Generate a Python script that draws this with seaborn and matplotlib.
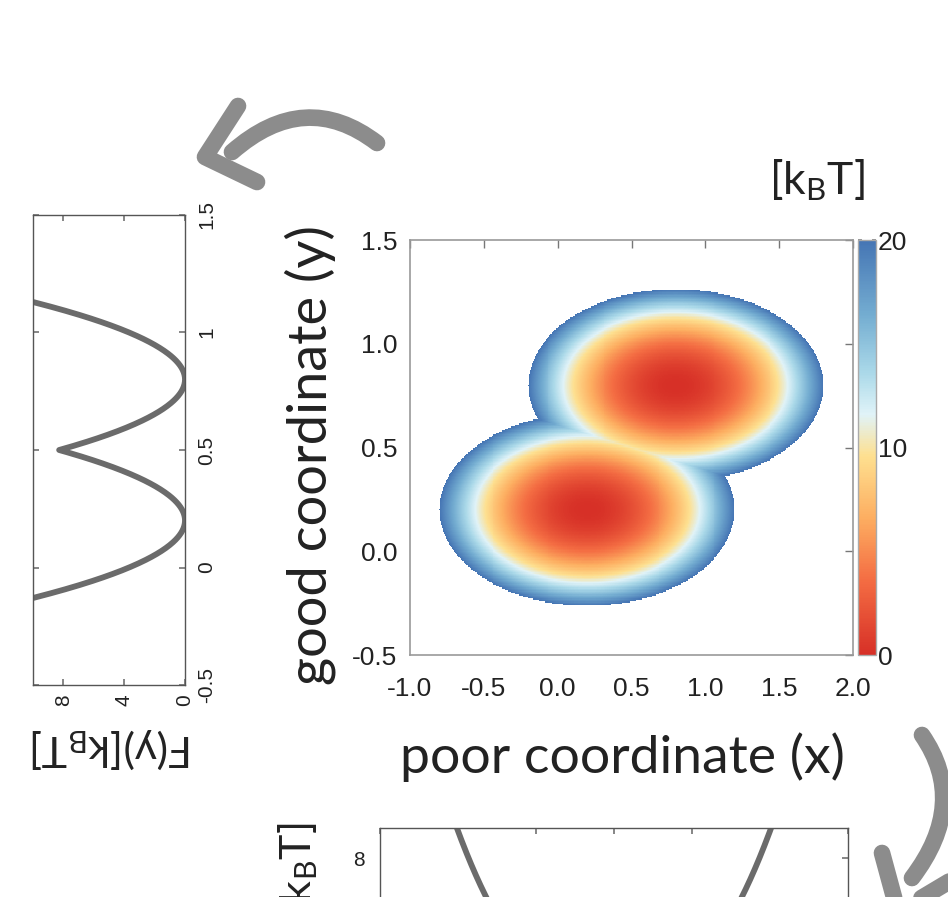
import numpy as np
import pandas as pd
import matplotlib
matplotlib.use("Agg")
import matplotlib.pyplot as plt
from matplotlib.colors import LinearSegmentedColormap
from matplotlib.path import Path
from matplotlib.patches import PathPatch
import seaborn as sns

# ---- two-state model landscape (energies in kBT) ----
well_x = [0.2, 0.8]          # well centres along the poor coordinate
well_y = [0.2, 0.8]          # well centres along the good coordinate
stiff_x = 20.0               # curvature along x
stiff_y = 92.0               # curvature along y
f_cap = 20.0                 # energies above this are left blank

x_ticks = [-1.0, -0.5, 0.0, 0.5, 1.0, 1.5, 2.0]
y_ticks = [-0.5, 0.0, 0.5, 1.0, 1.5]
cbar_ticks = [0, 10, 20]
prof_ticks = [-0.5, 0, 0.5, 1, 1.5]
prof_ticklabels = ["-0.5", "0", "0.5", "1", "1.5"]
energy_ticks = [0, 4, 8]

sns.set_theme(style="white")
plt.rcParams["font.family"] = ["Liberation Sans", "DejaVu Sans"]
plt.rcParams["mathtext.fontset"] = "custom"
plt.rcParams["mathtext.rm"] = "Lato"
plt.rcParams["mathtext.it"] = "Lato:italic"
plt.rcParams["mathtext.bf"] = "Lato:bold"

LABEL_FONT = ["Lato", "DejaVu Sans"]
INK = "#222222"
LINE = "#6b6b6b"
ARROW = "#8c8c8c"

W, H = 948, 897
fig = plt.figure(figsize=(W / 100, H / 100), dpi=100)


def box(l, t, r, b):
    return [l / W, 1 - b / H, (r - l) / W, (b - t) / H]


# ---- energy surface ----
gx = np.linspace(-1.0, 2.0, 451)
gy = np.linspace(-0.5, 1.5, 301)
GX, GY = np.meshgrid(gx, gy)
surface = np.min([stiff_x * (GX - cx) ** 2 + stiff_y * (GY - cy) ** 2
                  for cx, cy in zip(well_x, well_y)], axis=0)
surface = np.where(surface <= f_cap, surface, np.nan)

cmap = LinearSegmentedColormap.from_list("energy", [
    (0.00, "#d73027"), (0.18, "#f46d43"), (0.33, "#fdae61"),
    (0.48, "#fee090"), (0.58, "#e0f3f8"), (0.68, "#abd9e9"),
    (0.82, "#74add1"), (1.00, "#4575b4")])
cmap.set_bad("white")

ax = fig.add_axes(box(410, 240, 853, 655))
im = ax.imshow(surface, origin="lower", extent=(-1.0, 2.0, -0.5, 1.5),
               cmap=cmap, vmin=0, vmax=f_cap, aspect="auto",
               interpolation="nearest")
ax.set_xlim(-1.0, 2.0)
ax.set_ylim(-0.5, 1.5)
ax.set_xticks(x_ticks)
ax.set_xticklabels([f"{v:.1f}" for v in x_ticks])
ax.set_yticks(y_ticks)
ax.set_yticklabels([f"{v:.1f}" for v in y_ticks])
ax.tick_params(direction="in", length=6, width=1, color="#777777",
               top=True, right=True, labelsize=19, labelcolor=INK)
ax.tick_params(axis="x", pad=16)
ax.tick_params(axis="y", pad=9)
for s in ax.spines.values():
    s.set_color("#999999")
    s.set_linewidth(1.2)
ax.set_xlabel("poor coordinate (x)", fontsize=38.5, family=LABEL_FONT,
              color=INK, va="center")
ax.xaxis.set_label_coords((622 - 410) / 443, (655 - 757) / 415)
ax.set_ylabel("good coordinate (y)", fontsize=39, family=LABEL_FONT,
              color=INK, va="center")
ax.yaxis.set_label_coords((310 - 410) / 443, (655 - 455) / 415)

# ---- colour bar ----
cax = fig.add_axes(box(858, 240, 876, 655))
cb = fig.colorbar(im, cax=cax, alpha=0.85)
cb.set_ticks(cbar_ticks)
cb.ax.set_yticks([5, 15], minor=True)
cb.ax.tick_params(which="both", direction="in", left=True, right=True,
                  length=3, color="#888888", labelsize=19, labelcolor=INK,
                  pad=1.5)
cb.outline.set_edgecolor("#aaaaaa")
cb.outline.set_linewidth(1.0)
fig.text(817 / W, 1 - 180 / H, r"[k$_\mathrm{B}$T]", fontsize=32,
         family=LABEL_FONT, color=INK, ha="center", va="center")

# ---- profile along the good coordinate (turned on its side) ----
py = np.linspace(-0.5, 1.5, 801)
prof_y = pd.DataFrame({
    "y": py,
    "F": np.min([stiff_y * (py - c) ** 2 for c in well_y], axis=0),
})
axl = fig.add_axes(box(33, 215, 185, 685))
sns.lineplot(data=prof_y, x="F", y="y", orient="y", sort=False, ax=axl,
             color=LINE, linewidth=4.2)
axl.set_xlim(10, 0)
axl.set_ylim(-0.5, 1.5)
axl.set_xticks(energy_ticks)
axl.set_yticks(prof_ticks)
axl.set_yticklabels(prof_ticklabels)
axl.yaxis.tick_right()
axl.tick_params(direction="in", length=4, color="#777777", top=True,
                bottom=True, left=True, right=True, labelsize=15,
                labelcolor=INK)
axl.tick_params(axis="x", pad=7)
axl.tick_params(axis="y", pad=9)
for t in axl.get_xticklabels():
    t.set_rotation(90)
    t.set_va("top")
    t.set_ha("center")
for t in axl.get_yticklabels():
    t.set_rotation(90)
    t.set_va("center")
    t.set_ha("left")
for s in axl.spines.values():
    s.set_color("#555555")
    s.set_linewidth(1.0)
axl.set_ylabel("")
axl.set_xlabel(r"F(y)[k$_\mathrm{B}$T]", fontsize=31, family=LABEL_FONT,
               color=INK, rotation=180, va="center", ha="center")
axl.xaxis.set_label_coords((112 - 33) / 152, (685 - 748) / 470)

# ---- profile along the poor coordinate (runs off the lower edge) ----
px = np.linspace(-1.0, 2.0, 801)
prof_x = pd.DataFrame({
    "x": px,
    "F": np.min([stiff_x * (px - c) ** 2 for c in well_x], axis=0),
})
axb = fig.add_axes(box(380, 828, 848, 978))
sns.lineplot(data=prof_x, x="x", y="F", sort=False, ax=axb,
             color=LINE, linewidth=4.2)
axb.set_xlim(-1.0, 2.0)
axb.set_ylim(0, 10)
axb.set_xticks(x_ticks)
axb.set_yticks(energy_ticks)
axb.set_yticklabels(["", "", "8"])
axb.tick_params(direction="in", length=4, color="#777777", top=True,
                right=True, labelsize=15, labelcolor=INK, labelbottom=False)
axb.tick_params(axis="y", pad=11)
for s in axb.spines.values():
    s.set_color("#555555")
    s.set_linewidth(1.0)
axb.set_xlabel("")
axb.set_ylabel(r"F(x)[k$_\mathrm{B}$T]", fontsize=31, family=LABEL_FONT,
               color=INK, rotation=90, va="center", ha="center")
axb.yaxis.set_label_coords((298 - 380) / 468, 0.5)

# ---- curved grey arrows linking the panels ----
ov = fig.add_axes([0, 0, 1, 1], zorder=-1)
ov.set_xlim(0, W)
ov.set_ylim(H, 0)
ov.axis("off")


def stroke(verts, codes, lw=12):
    ov.add_patch(PathPatch(Path(verts, codes), fill=False, lw=lw,
                           ec=ARROW, capstyle="round", joinstyle="round"))


M, C, L = Path.MOVETO, Path.CURVE3, Path.LINETO
stroke([(377, 143), (305, 88), (232, 152)], [M, C, C])
stroke([(238, 106), (205, 157), (257, 182)], [M, L, L], lw=12)
stroke([(922, 735), (969, 803), (912, 878)], [M, C, C])
stroke([(882, 853), (898, 912), (955, 878)], [M, L, L], lw=12)

fig.savefig("out.png", dpi=100)
